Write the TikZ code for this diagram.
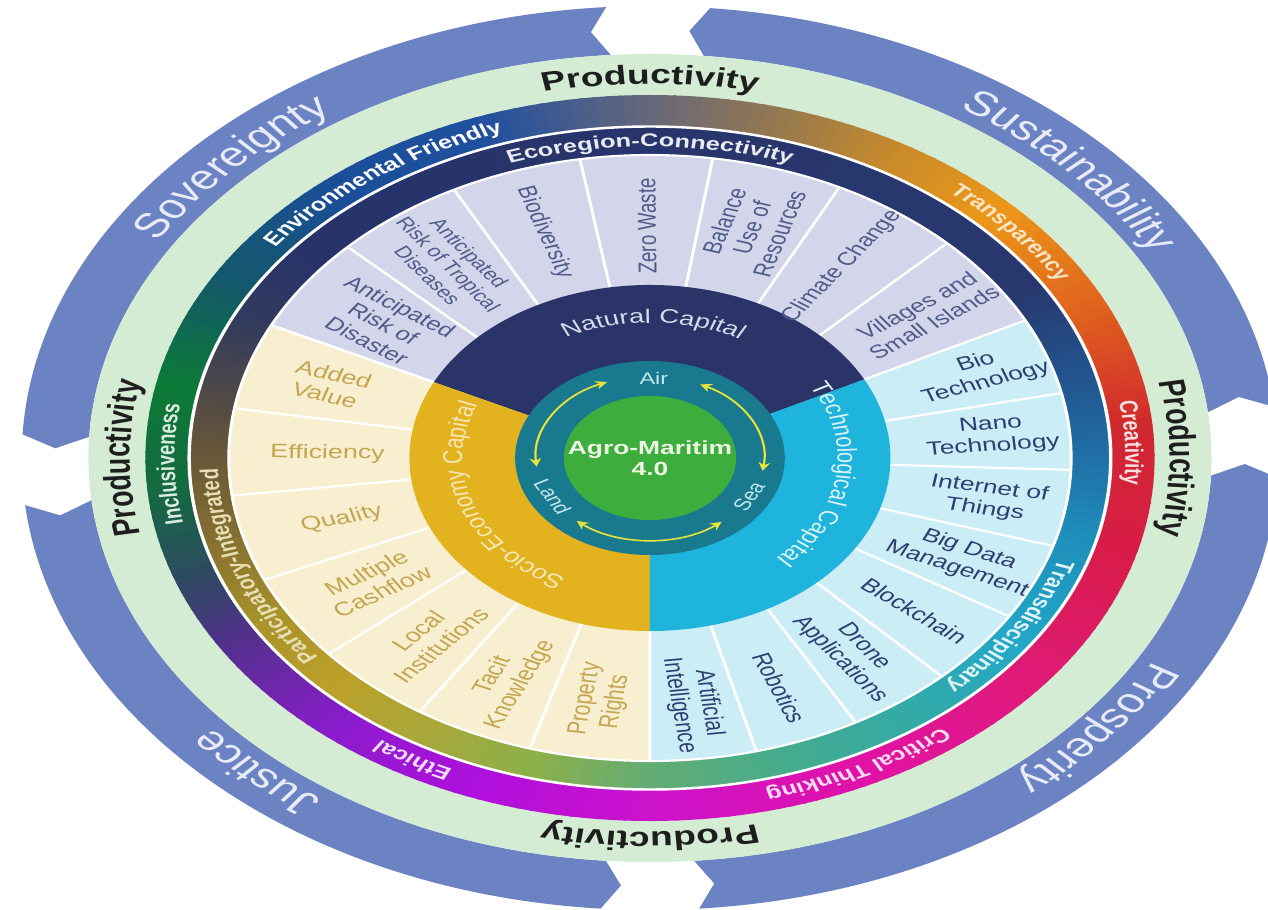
\documentclass[tikz,border=0pt]{standalone}
\usepackage{fontspec}
\setmainfont{Liberation Sans}
\usetikzlibrary{decorations.text,arrows.meta}

\definecolor{arrowblue}{HTML}{6B83C3}
\definecolor{bandwhite}{HTML}{E8ECF8}
\definecolor{palegreen}{HTML}{D5ECD4}
\definecolor{prodblack}{HTML}{1E1E1E}
\definecolor{natnavy}{HTML}{2A3468}
\definecolor{socgold}{HTML}{E2B21F}
\definecolor{techcyan}{HTML}{1FB4DC}
\definecolor{natfill}{HTML}{D3D5EA}
\definecolor{socfill}{HTML}{F8EFD0}
\definecolor{techfill}{HTML}{CAEDF6}
\definecolor{nattext}{HTML}{4E5A88}
\definecolor{soctext}{HTML}{C4A550}
\definecolor{techtext}{HTML}{2E3E72}
\definecolor{natcaptext}{HTML}{D6DAEA}
\definecolor{soccaptext}{HTML}{F7E8B6}
\definecolor{techcaptext}{HTML}{DDF3FA}
\definecolor{coreteal}{HTML}{18798F}
\definecolor{coregreen}{HTML}{3DAE3E}
\definecolor{coretext}{HTML}{EEF4E4}
\definecolor{elemtext}{HTML}{C4E8F0}
\definecolor{loopyellow}{HTML}{E8E33A}
% outer value ring
\definecolor{b01}{HTML}{146A40}\definecolor{b02}{HTML}{2E4A62}
\definecolor{b03}{HTML}{552F8E}\definecolor{b04}{HTML}{8A1CCC}
\definecolor{b05}{HTML}{B010DC}\definecolor{b06}{HTML}{CC12CC}
\definecolor{b07}{HTML}{E012A8}\definecolor{b08}{HTML}{DF1A7A}
\definecolor{b09}{HTML}{D81C48}\definecolor{b10}{HTML}{D0282E}
\definecolor{b11}{HTML}{E0621E}\definecolor{b12}{HTML}{EB9818}
\definecolor{b13}{HTML}{C88A2A}\definecolor{b14}{HTML}{947850}
\definecolor{b15}{HTML}{66687A}\definecolor{b16}{HTML}{2050A0}
\definecolor{b17}{HTML}{1A4F98}\definecolor{b18}{HTML}{13586A}
\definecolor{b19}{HTML}{0C7A36}
% inner principle ring
\definecolor{a01}{HTML}{6A5838}\definecolor{a02}{HTML}{857030}
\definecolor{a03}{HTML}{A8922A}\definecolor{a04}{HTML}{BCA02A}
\definecolor{a05}{HTML}{A8A83A}\definecolor{a06}{HTML}{8CB04C}
\definecolor{a07}{HTML}{64AC74}\definecolor{a08}{HTML}{44AC8E}
\definecolor{a09}{HTML}{34AAA6}\definecolor{a10}{HTML}{22A8C8}
\definecolor{a11}{HTML}{1E90BC}\definecolor{a12}{HTML}{2070A8}
\definecolor{a13}{HTML}{22548E}\definecolor{a14}{HTML}{28386E}
\definecolor{a15}{HTML}{27336A}\definecolor{a16}{HTML}{333A5C}
\definecolor{a17}{HTML}{4E4848}

\tikzset{
  band/.style={fill=arrowblue},
  divider/.style={white, line width=0.6pt},
  natlabel/.style={font=\fontsize{5.3}{5.9}\selectfont, text=nattext, align=center, inner sep=0pt},
  natsmall/.style={natlabel, font=\fontsize{4.7}{5.3}\selectfont},
  soclabel/.style={natlabel, font=\fontsize{5.5}{6.2}\selectfont, text=soctext},
  techlabel/.style={natlabel, font=\fontsize{5.4}{6.1}\selectfont, text=techtext},
  elemlabel/.style={font=\fontsize{4.8}{5.5}\selectfont, text=elemtext, inner sep=0pt},
  corelabel/.style={font=\fontsize{5.4}{6.1}\selectfont\bfseries, text=coretext, align=center, inner sep=0pt},
  looparrow/.style={loopyellow, line width=0.45pt, {Stealth[length=2.4pt,width=2.4pt]}-{Stealth[length=2.4pt,width=2.4pt]}},
  bandtext/.style={decorate, decoration={text along path, text align=center, text color=bandwhite, text={|\fontsize{9.8}{11}\selectfont|#1}}},
  prodtext/.style={decorate, decoration={text along path, text align=center, text color=prodblack, text={|\fontsize{7.6}{9}\selectfont\bfseries|#1}}},
  ringtext/.style 2 args={decorate, decoration={text along path, text align=center, text color=#1, text={|\fontsize{5.2}{6}\selectfont\bfseries|#2}}},
  captext/.style 2 args={decorate, decoration={text along path, text align=center, text color=#1, text={|\fontsize{5.6}{6.5}\selectfont|#2}}},
}

\begin{document}
\begin{tikzpicture}
\useasboundingbox (0,0) rectangle (12.68,9.09);
\clip (0,0) rectangle (12.68,9.09);
\begin{scope}[transform canvas={xscale=1.39}, shift={(4.676,4.51)}]
  % blue arrows
  \foreach \s/\e in {94/177, 186/265.5, 274.5/357.5, 6.5/84.5}{
    \pgfmathsetmacro\st{\s+1.7}
    \pgfmathsetmacro\et{\e+1.7}
    \fill[band] (\s:4.52) arc[start angle=\s,end angle=\e,radius=4.52] -- (\et:4.28)
      -- (\e:4.04) arc[start angle=\e,end angle=\s,radius=4.04] -- (\st:4.28) -- cycle;
  }
  \path[bandtext=Sovereignty] (196:4.15) arc[start angle=196,end angle=76,radius=4.15];
  \path[bandtext=Sustainability] (103.5:4.15) arc[start angle=103.5,end angle=-16.5,radius=4.15];
  \path[bandtext=Prosperity] (20:4.15) arc[start angle=20,end angle=-100,radius=4.15];
  \path[bandtext=Justice] (288:4.15) arc[start angle=288,end angle=168,radius=4.15];

  \fill[palegreen] (0,0) circle[radius=4.04];
  \path[prodtext=Productivity] (150:3.74) arc[start angle=150,end angle=30,radius=3.74];
  \path[prodtext=Productivity] (60:3.74) arc[start angle=60,end angle=-60,radius=3.74];
  \path[prodtext=Productivity] (330:3.74) arc[start angle=330,end angle=210,radius=3.74];
  \path[prodtext=Productivity] (240:3.74) arc[start angle=240,end angle=120,radius=3.74];

  % outer value ring
  \foreach \a/\b/\ca/\cb in {-175/-160/b01/b02, -160/-148/b02/b03, -148/-130/b03/b04,
      -130/-110/b04/b05, -110/-90/b05/b06, -90/-65/b06/b07, -65/-40/b07/b08,
      -40/-15/b08/b09, -15/5/b09/b10, 5/25/b10/b11, 25/45/b11/b12, 45/60/b12/b13,
      60/75/b13/b14, 75/90/b14/b15, 90/110/b15/b16, 110/130/b16/b17,
      130/150/b17/b18, 150/168/b18/b19, 168/185/b19/b01}{
    \pgfmathtruncatemacro\n{max(1,round(abs(\b-\a)/1.5))}
    \foreach \k in {1,...,\n}{
      \pgfmathsetmacro\sa{\a+(\k-1)*(\b-\a)/\n}
      \pgfmathsetmacro\sb{\a+\k*(\b-\a)/\n+0.4}
      \pgfmathtruncatemacro\p{100*(\k-0.5)/\n}
      \fill[\cb!\p!\ca] (\sa:3.63) arc[start angle=\sa,end angle=\sb,radius=3.63]
        -- (\sb:3.32) arc[start angle=\sb,end angle=\sa,radius=3.32] -- cycle;
    }
  }
  % inner principle ring
  \foreach \a/\b/\ca/\cb in {-180/-165/a01/a02, -165/-150/a02/a03, -150/-135/a03/a04,
      -135/-120/a04/a05, -120/-105/a05/a06, -105/-90/a06/a07, -90/-72/a07/a08,
      -72/-55/a08/a09, -55/-35/a09/a10, -35/-15/a10/a11, -15/0/a11/a12,
      0/15/a12/a13, 15/32/a13/a14, 32/140/a14/a15, 140/155/a15/a16,
      155/168/a16/a17, 168/180/a17/a01}{
    \pgfmathtruncatemacro\n{max(1,round(abs(\b-\a)/1.5))}
    \foreach \k in {1,...,\n}{
      \pgfmathsetmacro\sa{\a+(\k-1)*(\b-\a)/\n}
      \pgfmathsetmacro\sb{\a+\k*(\b-\a)/\n+0.4}
      \pgfmathtruncatemacro\p{100*(\k-0.5)/\n}
      \fill[\cb!\p!\ca] (\sa:3.31) arc[start angle=\sa,end angle=\sb,radius=3.31]
        -- (\sb:3.0) arc[start angle=\sb,end angle=\sa,radius=3.0] -- cycle;
    }
  }

  % sectors
  \fill[natfill] (0,0) -- (27:3.03) arc[start angle=27,end angle=154,radius=3.03] -- cycle;
  \fill[socfill] (0,0) -- (154:3.03) arc[start angle=154,end angle=270,radius=3.03] -- cycle;
  \fill[techfill] (0,0) -- (270:3.03) arc[start angle=270,end angle=387,radius=3.03] -- cycle;
  \foreach \k in {0,...,7}{
    \draw[divider] ({27+\k*18.143}:1.73) -- ({27+\k*18.143}:3.03);
    \draw[divider] ({154+\k*16.571}:1.73) -- ({154+\k*16.571}:3.03);
  }
  \foreach \k in {1,...,7}{
    \draw[divider] ({270+\k*14.625}:1.73) -- ({270+\k*14.625}:3.03);
  }
  \draw[divider] (0,0) circle[radius=3.03];
  \draw[divider, line width=0.7pt] (0,0) circle[radius=3.315];

  % capitals
  \fill[natnavy] (0,0) -- (27:1.73) arc[start angle=27,end angle=154,radius=1.73] -- cycle;
  \fill[socgold] (0,0) -- (154:1.73) arc[start angle=154,end angle=270,radius=1.73] -- cycle;
  \fill[techcyan] (0,0) -- (270:1.73) arc[start angle=270,end angle=387,radius=1.73] -- cycle;
  \fill[coreteal] (0,0) circle[radius=0.97];
  \fill[coregreen] (0,0) circle[radius=0.62];

  \path[captext={natcaptext}{Natural Capital}] (149:1.35) arc[start angle=149,end angle=29,radius=1.35];
  \path[captext={soccaptext}{Socio-Economy Capital}] (260:1.35) arc[start angle=260,end angle=140,radius=1.35];
  \path[captext={techcaptext}{Technological Capital}] (52:1.35) arc[start angle=52,end angle=-68,radius=1.35];

  % sector labels
  \foreach \ang/\rad/\sty/\txt [count=\i] in {145.0/2.34/natlabel/{Anticipated\\Risk of\\Disaster},
      126.8/2.42/natsmall/{Anticipated\\Risk of Tropical\\Diseases}, 108.6/2.38/natlabel/Biodiversity,
      90.5/2.32/natlabel/Zero Waste, 72.4/2.42/natlabel/{Balance\\Use of\\Resources},
      54.2/2.36/natlabel/Climate Change, 36.0/2.45/natlabel/{Villages and\\Small Islands}}{
    \pgfmathsetmacro\rot{ifthenelse(\ang>91,\ang-180,\ang)}
    \node[\sty, rotate=\rot] (nat\i) at (\ang:\rad) {\txt};
  }
  \foreach \ang/\rad/\txt [count=\i] in {162.3/2.42/{Added\\Value}, 178.9/2.32/Efficiency,
      195.4/2.3/Quality, 212.0/2.34/{Multiple\\Cashflow}, 228.6/2.4/{Local\\Institutions},
      245.1/2.45/{Tacit\\Knowledge}, 261.7/2.45/{Property\\Rights}}{
    \pgfmathsetmacro\rot{\ang-180}
    \node[soclabel, rotate=\rot] (soc\i) at (\ang:\rad) {\txt};
  }
  \foreach \ang/\rad/\txt [count=\i] in {19.7/2.53/{Bio\\Technology}, 5.1/2.47/{Nano\\Technology},
      -9.6/2.46/{Internet of\\Things}, -24.2/2.47/{Big Data\\Management}, -38.8/2.44/Blockchain,
      -53.4/2.43/{Drone\\Applications}, -68.0/2.48/Robotics, -82.7/2.48/{Artificial\\Intelligence}}{
    \node[techlabel, rotate=\ang] (tech\i) at (\ang:\rad) {\txt};
  }

  % ring labels
  \path[ringtext={white}{Environmental Friendly}] (185:3.42) arc[start angle=185,end angle=65,radius=3.42];
  \path[ringtext={b12!25!white}{Transparency}] (101:3.42) arc[start angle=101,end angle=-19,radius=3.42];
  \path[ringtext={b10!15!white}{Creativity}] (62.5:3.42) arc[start angle=62.5,end angle=-57.5,radius=3.42];
  \path[ringtext={b07!15!white}{Critical Thinking}] (-4:3.42) arc[start angle=-4,end angle=-124,radius=3.42];
  \path[ringtext={b05!15!white}{Ethical}] (300.5:3.42) arc[start angle=300.5,end angle=180.5,radius=3.42];
  \path[ringtext={b19!15!white}{Inclusiveness}] (241:3.42) arc[start angle=241,end angle=121,radius=3.42];
  \path[ringtext={a15!10!white}{Ecoregion-Connectivity}] (150:3.11) arc[start angle=150,end angle=30,radius=3.11];
  \path[ringtext={a10!12!white}{Transdisciplinary}] (27:3.11) arc[start angle=27,end angle=-93,radius=3.11];
  \path[ringtext={a04!35!white}{Participatory-Integrated}] (261:3.11) arc[start angle=261,end angle=141,radius=3.11];

  % core
  \draw[looparrow] (112:0.82) arc[start angle=112,end angle=186,radius=0.82];
  \draw[looparrow] (64:0.82) arc[start angle=64,end angle=-9,radius=0.82];
  \draw[looparrow] (230:0.82) arc[start angle=230,end angle=309,radius=0.82];
  \node[elemlabel] (air) at (88:0.80) {Air};
  \node[elemlabel, rotate=-61] (land) at (209:0.80) {Land};
  \node[elemlabel, rotate=61.5] (sea) at (331.5:0.81) {Sea};
  \node[corelabel] (core) at (0,0) {Agro-Maritim\\4.0};
\end{scope}
\end{tikzpicture}
\end{document}
